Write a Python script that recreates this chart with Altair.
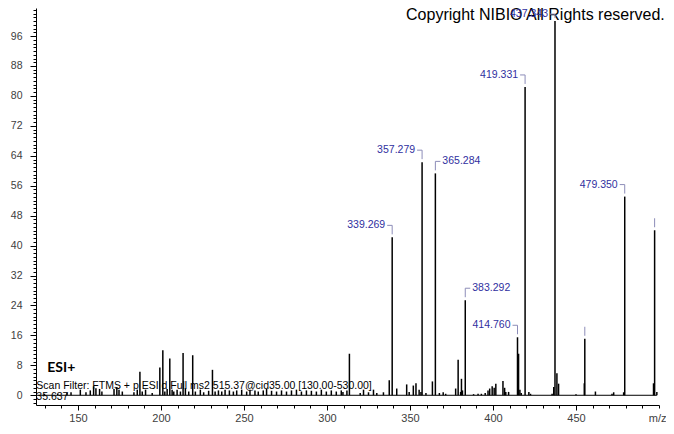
import altair as alt
import pandas as pd

# ---------------- data ----------------
major_mz = [339.269, 357.279, 365.284, 383.292, 414.760, 419.331, 437.343, 455.30, 479.350, 497.36]
major_int = [42.2, 62.3, 59.3, 25.4, 15.5, 82.4, 100.0, 15.1, 53.1, 44.1]
major_label = ["339.269", "357.279", "365.284", "383.292", "414.760", "419.331", "437.343", "", "479.350", ""]
major_side = ["left", "left", "right", "right", "left", "left", "top", "none", "left", "none"]

minor_mz = [
    129.8, 137.8, 143.4, 145.8, 151.4, 154.8, 157.4, 159.4, 160.8, 163.0, 164.4, 171.7, 173.4, 174.7,
    176.7, 183.7, 185.7, 187.3, 188.7, 190.7, 194.7, 199.3, 201.1, 202.3, 203.7, 205.3, 206.7,
    207.7, 209.7, 211.7, 213.3, 214.7, 216.7, 219.1, 220.7, 223.7, 225.7, 228.7, 231.0, 232.6, 234.6,
    236.6, 238.6, 241.2, 243.6, 245.6, 248.6, 251.6, 253.6, 256.6, 258.6, 261.6, 263.6, 266.6, 269.6,
    272.6, 275.6, 278.6, 281.6, 284.6, 287.6, 290.6, 293.6, 296.6, 299.6, 302.6, 305.6, 308.6,
    309.6, 312.0, 313.5, 320.0, 322.0, 325.0, 328.0, 330.0, 334.0, 337.5, 342.0, 348.0, 349.5, 352.0,
    353.6, 355.5, 356.6, 359.6, 363.5, 367.7, 370.0, 371.5, 377.5, 379.0, 380.5, 381.0, 381.6, 388.3,
    391.0, 393.0, 395.3, 397.0, 398.0, 399.5, 400.7, 401.7, 406.0, 407.0, 407.7,
    409.4, 415.4, 416.2, 417.0, 421.6, 422.6, 435.6, 436.6, 438.5, 439.5, 450.0, 455.0, 461.7,
    471.7, 472.7, 478.7, 496.7, 498.7,
]
minor_int = [
    0.4, 0.4, 0.6, 0.8, 1.5, 0.8, 1.3, 2.4, 1.9, 1.7, 1.0, 1.7, 2.2, 1.5,
    1.0, 0.8, 1.5, 6.3, 1.0, 1.5, 0.6, 7.4, 12.0, 1.0, 1.7, 9.8, 1.5,
    1.0, 1.5, 1.0, 11.3, 1.9, 1.0, 10.7, 1.0, 1.5, 0.8, 1.2, 6.8, 1.0, 1.3,
    1.0, 1.5, 1.3, 1.0, 1.3, 1.5, 1.0, 1.5, 1.3, 1.0, 1.3, 1.7, 1.2, 1.0,
    1.3, 1.0, 1.3, 1.5, 1.0, 1.3, 1.2, 1.0, 1.5, 1.0, 1.3, 1.0, 1.3,
    0.9, 1.3, 11.1, 0.6, 1.5, 0.8, 1.5, 0.6, 0.8, 4.0, 1.8, 2.9, 0.9, 2.6,
    3.2, 1.5, 0.9, 0.6, 3.7, 0.6, 0.8, 0.4, 1.8, 9.5, 0.9, 4.4, 1.3, 0.3,
    0.4, 0.4, 0.6, 1.3, 1.8, 2.4, 2.0, 3.1, 3.8, 2.0, 0.9,
    0.9, 11.1, 1.5, 0.6, 0.9, 0.4, 0.4, 2.2, 5.9, 3.1, 0.3, 3.2, 1.0,
    0.4, 0.8, 0.8, 3.2, 0.9,
]

y_major_ticks = list(range(0, 97, 8))
y_minor_ticks = list(range(-2, 104))
x_major_ticks = [150, 200, 250, 300, 350, 400, 450]
x_minor_ticks = list(range(130, 501, 10))
x_domain = [124.7, 500.0]
y_domain = [-2.6, 103.5]
baseline_span = [124.7, 498.7]

copyright_text = "Copyright NIBIO All Rights reserved."
mode_text = "ESI+"
scan_filter_text = "Scan Filter: FTMS + p ESI d Full ms2 515.37@cid35.00 [130.00-530.00]"
rt_text = "35.637"
x_title = "m/z"

# ---------------- frames ----------------
peaks = pd.DataFrame({"mz": major_mz + minor_mz, "inten": major_int + minor_int})
majors = pd.DataFrame({"mz": major_mz, "inten": major_int, "label": major_label, "side": major_side})
baseline = pd.DataFrame({"x0": [baseline_span[0]], "x1": [baseline_span[1]], "y0": [0]})

W, H = 623, 397
xs = alt.Scale(domain=x_domain, nice=False, zero=False)
ys = alt.Scale(domain=y_domain, nice=False, zero=False)

LBL = "#3030a0"
BRK = "#8c8cb8"
TICKLBL = "#404040"
FONT = "Liberation Sans"

major_x_axis = alt.Axis(
    values=x_major_ticks, orient="bottom", grid=False, tickSize=5, tickColor="black",
    domainColor="black", labelColor=TICKLBL, labelFont=FONT, labelFontSize=11, labelPadding=2,
    title=x_title, titleFont=FONT, titleFontSize=11, titleFontWeight="normal", titleColor=TICKLBL,
    titleX=W + 7, titleY=7, titleAlign="right", titleBaseline="top", titleAnchor="end",
)
minor_x_axis = alt.Axis(
    values=x_minor_ticks, orient="bottom", grid=False, tickSize=3, tickColor="black",
    domain=False, labels=False, title=None,
)
major_y_axis = alt.Axis(
    values=y_major_ticks, orient="left", grid=False, tickSize=6, tickColor="black",
    domainColor="black", labelColor=TICKLBL, labelFont=FONT, labelFontSize=10.5, labelPadding=8,
    title=None,
)
minor_y_axis = alt.Axis(
    values=y_minor_ticks, orient="left", grid=False, tickSize=3, tickColor="black",
    domain=False, labels=False, title=None,
)

base_layer = alt.Chart(baseline).mark_rule(color="black", strokeWidth=1).encode(
    x=alt.X("x0:Q", scale=xs, axis=minor_x_axis),
    x2="x1:Q",
    y=alt.Y("y0:Q", scale=ys, axis=minor_y_axis),
)

peak_layer = alt.Chart(peaks).mark_rule(color="black", strokeWidth=1.5).encode(
    x=alt.X("mz:Q", scale=xs, axis=major_x_axis),
    y=alt.Y("inten:Q", scale=ys, axis=major_y_axis),
    y2=alt.Y2(datum=0),
)


def note(text, xv, yv, size, weight="normal", font=FONT, align="left"):
    return alt.Chart(pd.DataFrame({"t": [text]})).mark_text(
        align=align, baseline="middle", font=font, fontSize=size, fontWeight=weight, color="black"
    ).encode(
        x=alt.X(datum=xv, scale=xs, axis=None),
        y=alt.Y(datum=yv, scale=ys, axis=None),
        text="t:N",
    )


def bracket_layers(side, off, hx0, hx1, align, dx):
    d = alt.Chart(majors).transform_filter(f"datum.side == '{side}'")
    enc_x = alt.X("mz:Q", scale=xs, axis=None)
    enc_y = alt.Y("inten:Q", scale=ys, axis=None)
    vert = d.mark_rule(color=BRK, strokeWidth=1, yOffset=off, y2Offset=-3).encode(
        x=enc_x, y=enc_y, y2="inten:Q"
    )
    horiz = d.mark_rule(color=BRK, strokeWidth=1, xOffset=hx0, x2Offset=hx1, yOffset=off).encode(
        x=enc_x, x2="mz:Q", y=enc_y
    )
    txt = d.mark_text(
        align=align, baseline="middle", dx=dx, dy=off, font=FONT, fontSize=10.5, color=LBL
    ).encode(x=enc_x, y=enc_y, text="label:N")
    return [vert, horiz, txt]


layers = [base_layer, note(copyright_text, 503.5, 101.6, 16, align="right"), peak_layer]
layers += bracket_layers("left", -12, -5, 0, "right", -7)
layers += bracket_layers("right", -12, 0, 5, "left", 7)
layers += bracket_layers("top", -7, -5, 0, "right", -7)

# unlabeled peaks: only the vertical marker
layers.append(
    alt.Chart(majors).transform_filter("datum.side == 'none'")
    .mark_rule(color=BRK, strokeWidth=1, yOffset=-12, y2Offset=-3)
    .encode(x=alt.X("mz:Q", scale=xs, axis=None), y=alt.Y("inten:Q", scale=ys, axis=None), y2="inten:Q")
)

layers.append(note(mode_text, 131.5, 7.4, 14, "bold", "Lato"))
layers.append(note(scan_filter_text, 124.9, 2.5, 10.5))
layers.append(note(rt_text, 124.9, -0.4, 10.5))

chart = (
    alt.layer(*layers)
    .resolve_axis(x="independent", y="independent")
    .properties(
        width=W,
        height=H,
        autosize=alt.AutoSizeParams(type="none"),
        padding={"left": 28, "top": 0, "right": 7, "bottom": 17},
        background="white",
    )
    .configure_view(stroke=None)
)

chart.save("out.html", embed_options={"renderer": "svg", "actions": False})
